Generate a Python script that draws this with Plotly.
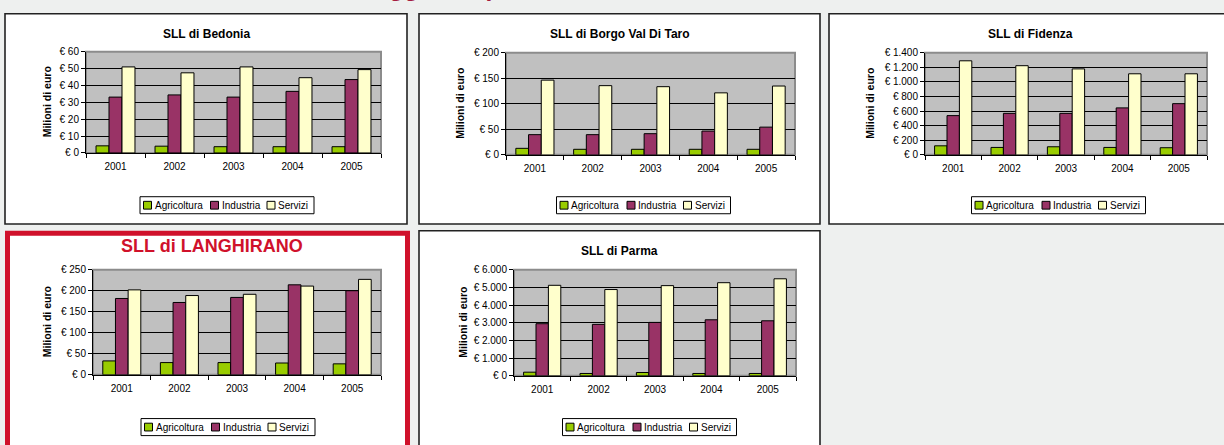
import plotly.graph_objects as go

W, H = 1224, 445

# ---------------- data ----------------
years = ["2001", "2002", "2003", "2004", "2005"]
series_names = ["Agricoltura", "Industria", "Servizi"]
series_colors = ["#99cc00", "#993366", "#ffffcc"]

bedonia_agri = [4.2, 4.0, 3.7, 3.7, 3.7]
bedonia_ind = [33.1, 34.4, 33.1, 36.5, 43.5]
bedonia_serv = [51.0, 47.5, 51.0, 44.6, 49.4]
bedonia_ticks = [0, 10, 20, 30, 40, 50, 60]
bedonia_ticktext = ["€ 0", "€ 10", "€ 20", "€ 30", "€ 40", "€ 50", "€ 60"]

borgo_agri = [12.8, 10.9, 10.9, 10.9, 10.9]
borgo_ind = [39.6, 39.6, 41.5, 46.6, 54.3]
borgo_serv = [146.3, 135.5, 133.5, 121.4, 134.8]
borgo_ticks = [0, 50, 100, 150, 200]
borgo_ticktext = ["€ 0", "€ 50", "€ 100", "€ 150", "€ 200"]

fidenza_agri = [124, 102, 111, 102, 98]
fidenza_ind = [538, 569, 569, 644, 702]
fidenza_serv = [1289, 1222, 1178, 1111, 1111]
fidenza_ticks = [0, 200, 400, 600, 800, 1000, 1200, 1400]
fidenza_ticktext = ["€ 0", "€ 200", "€ 400", "€ 600", "€ 800", "€ 1.000", "€ 1.200", "€ 1.400"]

langhirano_agri = [33, 29, 29, 28, 26]
langhirano_ind = [181.5, 172, 184, 214, 200]
langhirano_serv = [202, 188.5, 191.5, 211, 227]
langhirano_ticks = [0, 50, 100, 150, 200, 250]
langhirano_ticktext = ["€ 0", "€ 50", "€ 100", "€ 150", "€ 200", "€ 250"]

parma_agri = [202, 129, 184, 129, 129]
parma_ind = [2945, 2908, 3018, 3166, 3110]
parma_serv = [5117, 4877, 5098, 5264, 5485]
parma_ticks = [0, 1000, 2000, 3000, 4000, 5000, 6000]
parma_ticktext = ["€ 0", "€ 1.000", "€ 2.000", "€ 3.000", "€ 4.000", "€ 5.000", "€ 6.000"]

titles = ["SLL di Bedonia", "SLL di Borgo Val Di Taro", "SLL di Fidenza",
          "SLL di LANGHIRANO", "SLL di Parma"]
y_title = "Milioni di euro"
page_title = "Valore aggiunto per settore"

# ---------------- layout helpers ----------------
def fx(px):
    return px / W


def fy(py):
    return 1 - py / H


panels = [
    dict(data=[bedonia_agri, bedonia_ind, bedonia_serv], ticks=bedonia_ticks, ticktext=bedonia_ticktext,
         plot=(86, 381, 47, 151), box=(5, 407, 8, 224), title_xy=(206, 29), ytitle_x=47, legend=(227, 196),
         red=False),
    dict(data=[borgo_agri, borgo_ind, borgo_serv], ticks=borgo_ticks, ticktext=borgo_ticktext,
         plot=(506, 795, 48, 153), box=(419, 820, 8, 224), title_xy=(620, 29), ytitle_x=460, legend=(643.5, 196),
         red=False),
    dict(data=[fidenza_agri, fidenza_ind, fidenza_serv], ticks=fidenza_ticks, ticktext=fidenza_ticktext,
         plot=(925, 1207, 48, 153), box=(829, 1240, 8, 224), title_xy=(1030, 29), ytitle_x=870,
         legend=(1058.5, 196), red=False),
    dict(data=[langhirano_agri, langhirano_ind, langhirano_serv], ticks=langhirano_ticks,
         ticktext=langhirano_ticktext,
         plot=(93, 381, 271, 379), box=(5, 410, 231, 460), title_xy=(212, 247), ytitle_x=47, legend=(228, 424),
         red=True),
    dict(data=[parma_agri, parma_ind, parma_serv], ticks=parma_ticks, ticktext=parma_ticktext,
         plot=(514, 796, 271, 380), box=(419, 820, 231, 460), title_xy=(619, 252), ytitle_x=463,
         legend=(649.5, 424), red=False),
]

FONT = "Liberation Sans, Arial, sans-serif"
RED = "#d0112b"

# legend key geometry (pixels, relative to legend box left)
LEG_W, LEG_H = 174, 17.5
LEG_SWATCH = [3.5, 70.5, 127.0]
SW = 8

fig = go.Figure()
shapes = []
annotations = []
layout = {}

for i, p in enumerate(panels):
    n = i + 1
    xname = "x" if n == 1 else f"x{n}"
    yname = "y" if n == 1 else f"y{n}"
    for s in range(3):
        fig.add_trace(go.Bar(
            x=years, y=p["data"][s], name=series_names[s],
            marker=dict(color=series_colors[s], line=dict(color="black", width=1)),
            xaxis=xname, yaxis=yname, showlegend=False,
            hoverinfo="x+y+name",
        ))

    x0, x1, y0, y1 = p["plot"]
    ymax = p["ticks"][-1]
    layout[f"xaxis{'' if n == 1 else n}"] = dict(
        domain=[fx(x0), fx(x1)], anchor=yname, type="category",
        showline=True, linecolor="black", linewidth=1,
        ticks="outside", tickson="boundaries", ticklen=4, tickcolor="black",
        ticklabelstandoff=4,
        showgrid=False, tickfont=dict(family=FONT, size=10, color="black"),
        fixedrange=True,
    )
    layout[f"yaxis{'' if n == 1 else n}"] = dict(
        domain=[fy(y1), fy(y0)], anchor=xname, range=[0, ymax],
        tickvals=p["ticks"], ticktext=p["ticktext"],
        showline=True, linecolor="black", linewidth=1,
        ticks="outside", ticklen=4, tickcolor="black",
        showgrid=True, gridcolor="black", gridwidth=1, zeroline=False,
        tickfont=dict(family=FONT, size=10, color="black"),
        fixedrange=True,
    )

    # panel box
    bx0, bx1, by0, by1 = p["box"]
    if p["red"]:
        lw = 5
        shapes.append(dict(type="rect", xref="paper", yref="paper",
                           x0=fx(bx0 + lw / 2), x1=fx(bx1 - lw / 2), y0=fy(by1), y1=fy(by0 + lw / 2),
                           fillcolor="white", line=dict(color=RED, width=lw), layer="below"))
    else:
        shapes.append(dict(type="rect", xref="paper", yref="paper",
                           x0=fx(bx0), x1=fx(bx1), y0=fy(by1), y1=fy(by0),
                           fillcolor="white", line=dict(color="#222222", width=1.6), layer="below"))

    # grey plot wall
    shapes.append(dict(type="rect", xref=f"{xname} domain", yref=f"{yname} domain",
                       x0=0, x1=1, y0=0, y1=1, fillcolor="#c0c0c0",
                       line=dict(color="#8c8c8c", width=2), layer="below"))

    # title
    tx, ty = p["title_xy"]
    if p["red"]:
        annotations.append(dict(text=f"<b>{titles[i]}</b>", x=fx(tx), y=fy(ty), xref="paper", yref="paper",
                                xanchor="center", yanchor="middle", showarrow=False,
                                font=dict(family=FONT, size=18, color=RED)))
    else:
        annotations.append(dict(text=f"<b>{titles[i]}</b>", x=fx(tx), y=fy(ty), xref="paper", yref="paper",
                                xanchor="center", yanchor="middle", showarrow=False,
                                font=dict(family=FONT, size=12, color="black")))
    # y axis title
    annotations.append(dict(text=f"<b>{y_title}</b>", x=fx(p["ytitle_x"]), y=fy((y0 + y1) / 2),
                            xref="paper", yref="paper", xanchor="center", yanchor="middle",
                            textangle=-90, showarrow=False,
                            font=dict(family=FONT, size=10.5, color="black")))

    # legend key (box, colour swatches, series names)
    lcx, ltop = p["legend"]
    lleft = lcx - LEG_W / 2
    shapes.append(dict(type="rect", xref="paper", yref="paper",
                       x0=fx(lleft), x1=fx(lleft + LEG_W), y0=fy(ltop + LEG_H), y1=fy(ltop),
                       fillcolor="white", line=dict(color="black", width=1)))
    mid = ltop + LEG_H / 2
    for s in range(3):
        sx = lleft + LEG_SWATCH[s]
        shapes.append(dict(type="rect", xref="paper", yref="paper",
                           x0=fx(sx), x1=fx(sx + SW), y0=fy(mid + SW / 2), y1=fy(mid - SW / 2),
                           fillcolor=series_colors[s], line=dict(color="black", width=1)))
        annotations.append(dict(text=series_names[s], x=fx(sx + SW + 1), y=fy(mid), xref="paper", yref="paper",
                                xanchor="left", yanchor="middle", showarrow=False,
                                font=dict(family=FONT, size=10, color="black")))

# cut-off page heading at the very top (only its descenders peek into view)
annotations.append(dict(text=f"<b>{page_title}</b>", x=fx(293), y=1, xref="paper", yref="paper",
                        xanchor="left", yanchor="bottom", yshift=3, showarrow=False,
                        font=dict(family=FONT, size=24.5, color="#a51c40")))

fig.update_layout(
    width=W, height=H, autosize=False,
    margin=dict(l=0, r=0, t=0, b=0),
    paper_bgcolor="#eef0ef", plot_bgcolor="rgba(0,0,0,0)",
    barmode="group", bargap=0.34, bargroupgap=0,
    shapes=shapes, annotations=annotations,
    font=dict(family=FONT, size=10, color="black"),
    **layout,
)

fig.write_html(
    "out.html",
    config=dict(displayModeBar=False),
    post_script=("document.body.style.margin='0';document.body.style.padding='0';"
                 "document.body.style.background='#eef0ef';"
                 "var d=document.getElementById('{plot_id}');"
                 "d.style.position='absolute';d.style.left='0px';d.style.top='0px';"),
)
